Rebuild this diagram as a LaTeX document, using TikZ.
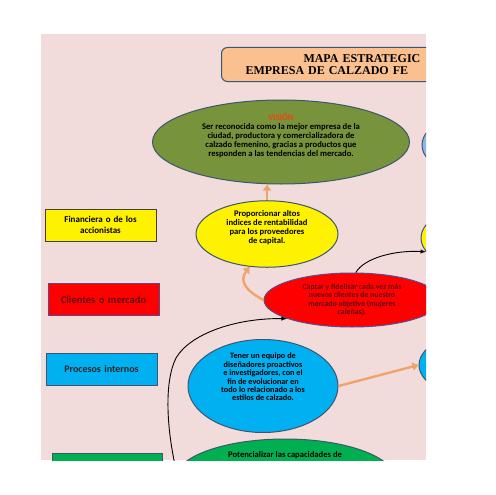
\documentclass[tikz,border=0pt]{standalone}
\usepackage{fontspec}
\setmainfont{Carlito}
\newfontfamily\titlefont{Liberation Serif}
\usepackage{xcolor}
\usepackage{tikz}
\usetikzlibrary{shapes, arrows, arrows.meta, calc}
\definecolor{bgpink}{HTML}{F2DCDB}
\definecolor{peach}{HTML}{FAC090}
\definecolor{olive}{HTML}{77933C}
\definecolor{visionred}{HTML}{F5400F}
\definecolor{skyblue}{HTML}{00B0F0}
\definecolor{paleblue}{HTML}{8DB4E2}
\definecolor{leafgreen}{HTML}{00B050}
\definecolor{edgeblue}{HTML}{3B5670}
\definecolor{edgeviolet}{HTML}{5A4A8A}
\definecolor{maroon}{HTML}{5E0A14}
\definecolor{arroworange}{HTML}{EEA46C}
\tikzstyle{perspective} = [rectangle, draw=edgeblue, line width=1pt, 
    text width=9.5em, text centered, minimum width=111, minimum height=32, inner sep=0pt]
\tikzstyle{objective} = [ellipse, draw=edgeblue, line width=1pt, 
    align=center, inner sep=0pt, font=\fontsize{8.6}{9}\selectfont\bfseries]
\tikzstyle{line} = [draw, line width=0.9pt, -latex]
\tikzstyle{push} = [draw, arroworange, line width=2.4pt, -{Triangle[length=6pt, width=8pt]}]

\begin{document}
\begin{tikzpicture}[x=1pt, y=-1pt, font=\bfseries]
    \useasboundingbox (0,0) rectangle (495,495);
    \clip (41,34) rectangle (426,460);
    \fill [bgpink] (41,34) rectangle (426,460);
    % Nodes
    \node [rectangle, rounded corners=6pt, draw=edgeblue, line width=1pt, fill=peach,
        anchor=north west, minimum width=300, minimum height=34, inner xsep=24pt,
        text width=280, align=left, font=\titlefont\fontsize{12}{12}\selectfont\bfseries]
        (title) at (221,47) {\hspace*{58pt}MAPA ESTRATEGIC\\EMPRESA DE CALZADO FE};
    \node [objective, fill=olive, minimum width=257, minimum height=84, text depth=15pt] (vision) at (281,142)
        {\textcolor{visionred}{VISIÓN}\\Ser reconocida como la mejor empresa  de la\\ciudad, productora y comercializadora de\\calzado femenino, gracias a productos que\\responden a las tendencias del mercado.};
    \node [objective, fill=paleblue, minimum width=140, minimum height=70] (rblue) at (492,145) {};
    \node [objective, fill=yellow, minimum width=142, minimum height=66, text depth=14pt] (profit) at (267,234)
        {Proporcionar  altos\\indices de rentabilidad\\para los proveedores\\de capital.};
    \node [objective, fill=yellow, minimum width=140, minimum height=70] (ryellow) at (491,238) {};
    \node [objective, fill=red, draw=edgeviolet, text=maroon, minimum width=176, minimum height=54,
        font=\fontsize{7.8}{8.4}\selectfont\bfseries] (clients) at (352,300)
        {Captar y fidelisar cada vez más\\nuevos clientes  de nuestro\\mercado objetivo (mujeres\\caleñas).};
    \node [objective, fill=skyblue, minimum width=150, minimum height=76, text depth=18pt,
        font=\fontsize{8.2}{8.4}\selectfont\bfseries] (design) at (263,386)
        {Tener un  equipo de\\diseñadores  proactivos\\e investigadores, con el\\fin de evolucionar en\\todo lo relacionado a los\\estilos de calzado.};
    \node [objective, fill=skyblue, minimum width=140, minimum height=70] (rsky) at (489,365) {};
    \node [objective, fill=leafgreen, minimum width=220, minimum height=80, text depth=50pt] (growth) at (285,479)
        {Potencializar las capacidades de};
    \node [perspective, fill=yellow, draw=black!75, font=\fontsize{9}{10.5}\selectfont\bfseries] (finance) at (100.5,225)
        {Financiera o de los\\accionistas};
    \node [perspective, fill=red, draw=edgeviolet, text=maroon, font=\fontsize{10.5}{12}\selectfont\bfseries] (market) at (103.5,299.5)
        {\raisebox{-2pt}{Clientes o mercado}};
    \node [perspective, fill=skyblue, text=black!85, font=\fontsize{10}{12}\selectfont\bfseries] (process) at (101.5,369.5)
        {Procesos internos};
    \node [perspective, fill=leafgreen, minimum width=110, minimum height=34] (learning) at (107,470) {};
    \coordinate (below) at (178,478);
    % Edges
    \path [push] (profit.north) -- (profit.north |- vision.south);
    \path [push] (clients.west) .. controls (248,292) and (238,282) .. (profit.-118);
    \path [push] (design.east) -- (rsky.west);
    \path [line] (clients.82) .. controls (364,258) and (395,250) .. (ryellow.192);
    \path [line] (below) .. controls (166,430) and (164,382) .. (176,358)
        .. controls (190,334) and (235,318) .. (clients.196);
\end{tikzpicture}
\end{document}
